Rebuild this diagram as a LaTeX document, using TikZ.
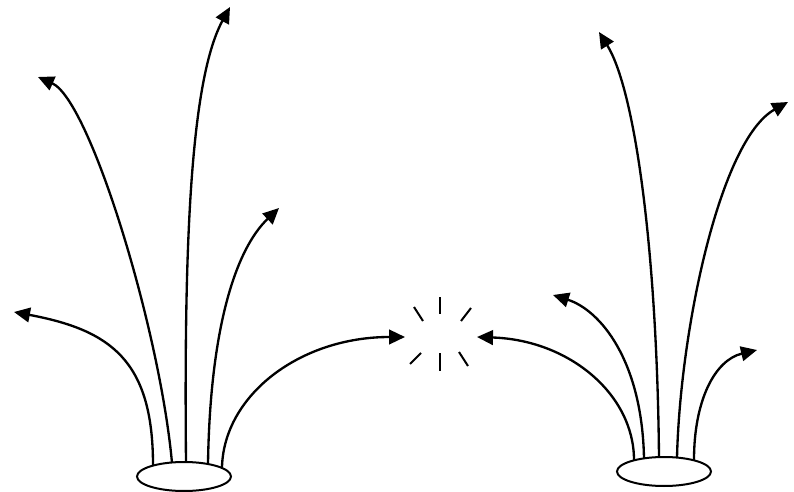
\documentclass[tikz,border=0pt]{standalone}
\usetikzlibrary{arrows.meta,shapes.geometric}
\begin{document}
\begin{tikzpicture}[x=0.75pt,y=-0.75pt,
  jet/.style={line width=1.75pt,-{Triangle[length=12pt,width=11pt]}},
  pool/.style={draw,ellipse,line width=1.5pt,fill=white,inner sep=0pt,minimum width=70.5pt,minimum height=21.75pt},
  ray/.style={line width=1.5pt}]
\useasboundingbox (0,0) rectangle (794,492);
% base points and tips, left
\coordinate (l1) at (153,465);
\coordinate (l2) at (172,463);
\coordinate (l3) at (186,462);
\coordinate (l4) at (208,464);
\coordinate (l5) at (222,467);
\coordinate (tl1) at (14,312);
\coordinate (tl2) at (38,77);
\coordinate (tl3) at (230,7);
\coordinate (tl4) at (279,208);
\coordinate (tl5) at (405,337);
% right
\coordinate (r1) at (634,460);
\coordinate (r2) at (644,458);
\coordinate (r3) at (659,457);
\coordinate (r4) at (677,458);
\coordinate (r5) at (694,460);
\coordinate (tr1) at (477,337);
\coordinate (tr2) at (553,295);
\coordinate (tr3) at (599,32);
\coordinate (tr4) at (788,102);
\coordinate (tr5) at (757,350);
% jets
\draw[jet] (l1) .. controls (153,360) and (110,330) .. (tl1);
\draw[jet] (l2) .. controls (160,330) and (90,100) .. (tl2);
\draw[jet] (l3) .. controls (184,250) and (190,80) .. (tl3);
\draw[jet] (l4) .. controls (210,330) and (235,250) .. (tl4);
\draw[jet] (l5) .. controls (224,395) and (300,337) .. (tl5);
\draw[jet] (r1) .. controls (634,395) and (570,340) .. (tr1);
\draw[jet] (r2) .. controls (642,360) and (600,310) .. (tr2);
\draw[jet] (r3) .. controls (657,250) and (635,90) .. (tr3);
\draw[jet] (r4) .. controls (680,330) and (720,140) .. (tr4);
\draw[jet] (r5) .. controls (694,400) and (715,360) .. (tr5);
% pools
\node[pool] (poolL) at (184,476.5) {};
\node[pool] (poolR) at (664,471.5) {};
% burst
\coordinate (b1a) at (440,297); \coordinate (b1b) at (440,314);
\coordinate (b2a) at (414,307); \coordinate (b2b) at (423,321);
\coordinate (b3a) at (471,308); \coordinate (b3b) at (461,321);
\coordinate (b4a) at (410,364); \coordinate (b4b) at (421,353);
\coordinate (b5a) at (440,353); \coordinate (b5b) at (440,371);
\coordinate (b6a) at (459,352); \coordinate (b6b) at (468,366);
\foreach \i in {1,...,6}
  \draw[ray] (b\i a) -- (b\i b);
\end{tikzpicture}
\end{document}
